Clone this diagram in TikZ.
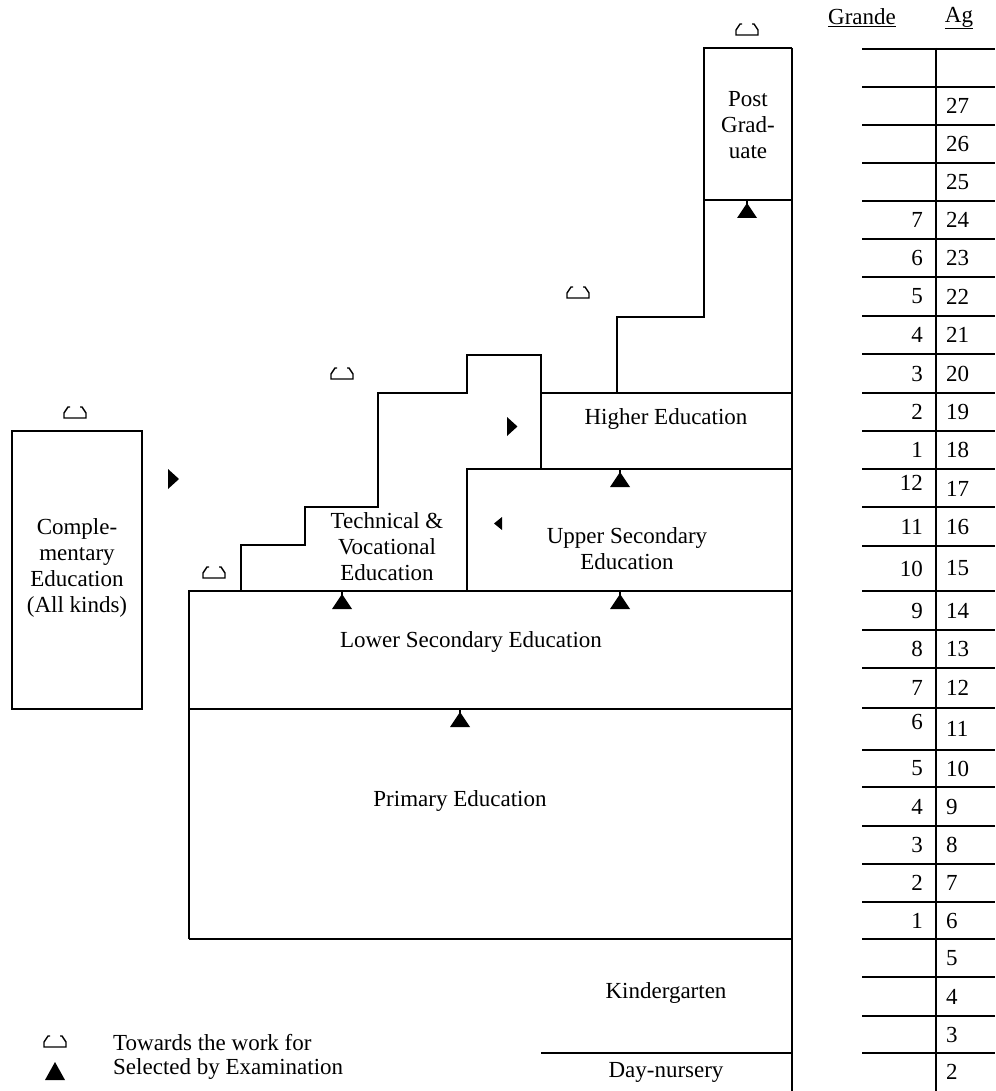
\documentclass[tikz,border=0pt]{standalone}
\usepackage{fontspec}
\setmainfont{Liberation Serif}
\begin{document}
\begin{tikzpicture}[x=1pt,y=-1pt,
  ln/.style={line width=1.5pt, line join=miter},
  lbl/.style={font=\fontsize{23}{26}\selectfont, align=center, inner sep=0pt},
  num/.style={font=\fontsize{23}{26}\selectfont, inner sep=0pt},
  examtri/.pic={\fill (0,3)--(-10,18)--(10,18)--cycle; \draw[line width=1.2pt] (0,0)--(0,4);},
  workfor/.pic={\draw[line width=1.4pt, line join=miter] (-5,-11)--(-7,-11)--(-11,-5)--(-11,0)--(11,0)--(11,-5)--(7,-11)--(5,-11);},
  rtri/.pic={\fill (0,-10)--(11,0)--(0,10)--cycle;}
]
\useasboundingbox[fill=white] (0,0) rectangle (995,1091);

% ---- structure outlines ----
\draw[ln] (792,48) -- (792,1091);
\draw[ln] (704,200) -- (704,48) -- (792,48);
\draw[ln] (704,200) -- (792,200);
\draw[ln] (704,200) -- (704,317) -- (617,317) -- (617,393);
\draw[ln] (541,393) -- (792,393);
\draw[ln] (241,591) -- (241,545) -- (305,545) -- (305,507) -- (378,507) -- (378,393) -- (467,393) -- (467,355) -- (541,355) -- (541,469);
\draw[ln] (467,591) -- (467,469) -- (792,469);
\draw[ln] (189,939) -- (189,591) -- (792,591);
\draw[ln] (189,709) -- (792,709);
\draw[ln] (189,939) -- (792,939);
\draw[ln] (541,1053) -- (792,1053);
\draw[ln] (12,431) rectangle (142,709);

% ---- labels ----
\node[lbl] (pg) at (748,125) {Post\\Grad-\\uate};
\node[lbl] (he) at (666,419) {Higher Education};
\node[lbl] (use) at (627,549) {Upper Secondary\\Education};
\node[lbl] (tve) at (387,547) {Technical \&\\Vocational\\Education};
\node[lbl] (lse) at (471,642) {Lower Secondary Education};
\node[lbl] (pe) at (460,801) {Primary Education};
\node[lbl] (kg) at (666,993) {Kindergarten};
\node[lbl] (dn) at (666,1072) {Day-nursery};
\node[lbl] (ce) at (77,568) {Comple-\\mentary\\Education\\(All kinds)};

% ---- symbols ----
\pic at (747,35) {workfor};
\pic at (578,298) {workfor};
\pic at (342,379) {workfor};
\pic at (75,418) {workfor};
\pic at (214,578) {workfor};
\pic at (747,200) {examtri};
\pic at (620,469) {examtri};
\pic at (342,591) {examtri};
\pic at (620,591) {examtri};
\pic at (460,709) {examtri};
\pic at (168,479) {rtri};
\pic[scale=0.95] at (507,426.5) {rtri};
\fill (502,517) -- (494,523.5) -- (502,530) -- cycle;

% ---- legend ----
\pic at (55,1047) {workfor};
\fill (55,1062) -- (45,1080) -- (65,1080) -- cycle;
\node[lbl, anchor=west] (lg1) at (113,1043) {Towards the work for};
\node[lbl, anchor=west] (lg2) at (113,1069) {Selected by Examination};

% ---- table ----
\node[lbl] (hg) at (862,18) {\underline{Grande}};
\node[lbl] (ha) at (959,18) {\underline{Ag}};
\draw[ln] (936,48) -- (936,1091);
\foreach \yy in {49,87,125,163,201,239,277,316,354,393,431,469,507,546,591,630,668,708,750,787,826,864,902,939,977,1016,1053}
  \draw[ln] (862,\yy) -- (995,\yy);
\foreach \yc/\gr/\gs/\ag [count=\i] in {
  106//0/27, 144//0/26, 182//0/25, 220/7/0/24, 258/6/0/23, 296.5/5/0/22,
  335/4/0/21, 373.5/3/0/20, 412/2/0/19, 450/1/0/18, 489/12/-6/17, 526.5/11/0/16,
  568.5/10/0/15, 610.5/9/0/14, 649/8/0/13, 688/7/0/12, 729/6/-7/11, 768.5/5/0/10,
  806.5/4/0/9, 845/3/0/8, 883/2/0/7, 920.5/1/0/6, 958//0/5, 996.5//0/4,
  1034.5//0/3, 1072//0/2}
{
  \node[num, anchor=east] (g\i) at (923,\yc+\gs) {\gr};
  \node[num, anchor=west] (a\i) at (946,\yc) {\ag};
}
\end{tikzpicture}
\end{document}
